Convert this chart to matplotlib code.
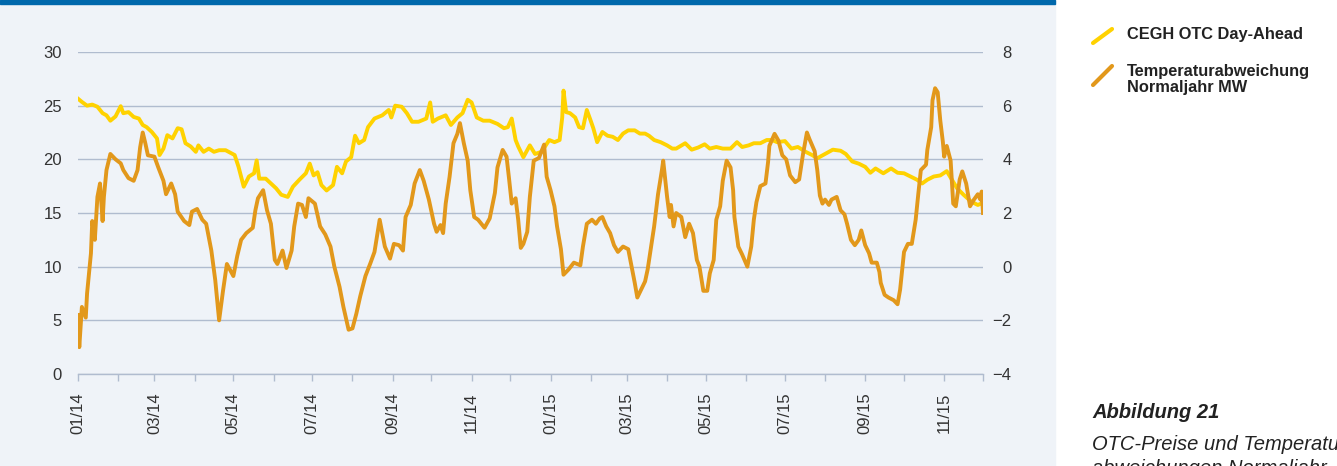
import matplotlib
matplotlib.use('Agg')
import matplotlib.pyplot as plt
import matplotlib.dates as mdates
from matplotlib.lines import Line2D
from matplotlib.patches import Rectangle
import pandas as pd

# CEGH OTC Day-Ahead (left axis), days since 2014-01-01
price_days = [0, 3, 7, 11, 15, 19, 22, 25, 29, 33, 35, 39, 43, 47, 50, 53, 57, 61, 63, 66,
              69, 73, 77, 80, 83, 87, 91, 93, 97, 101, 105, 109, 114, 121, 124, 128, 132, 136, 138, 140,
              145, 149, 153, 157, 162, 166, 171, 176, 179, 182, 185, 188, 192, 197, 200, 204, 207, 211, 214, 217,
              221, 224, 229, 235, 240, 242, 245, 250, 254, 258, 263, 269, 272, 274, 278, 284, 288, 293, 297, 301,
              304, 308, 313, 318, 324, 329, 332, 335, 338, 340, 344, 349, 353, 358, 364, 368, 372, 374, 375, 377,
              380, 384, 387, 390, 393, 396, 398, 401, 405, 409, 413, 417, 421, 425, 430, 434, 438, 441, 445, 450,
              455, 459, 462, 469, 474, 479, 484, 488, 493, 498, 504, 509, 513, 518, 522, 527, 532, 536, 540, 546,
              551, 556, 562, 567, 571, 577, 583, 589, 593, 598, 603, 608, 612, 616, 622, 628, 633, 638, 643, 648,
              652, 656, 661, 666, 671, 675, 679, 684, 690, 695, 699]
price_vals = [25.65, 25.35, 25.0, 25.1, 24.9, 24.3, 24.1, 23.6, 24.0, 24.95, 24.3, 24.4, 23.95, 23.8, 23.2, 23.0, 22.55, 21.95, 20.4, 21.0,
              22.25, 21.95, 22.9, 22.8, 21.5, 21.2, 20.7, 21.3, 20.7, 21.0, 20.7, 20.85, 20.85, 20.4, 19.3, 17.45, 18.4, 18.7, 19.9, 18.2,
              18.2, 17.75, 17.3, 16.7, 16.5, 17.45, 18.1, 18.7, 19.6, 18.5, 18.8, 17.6, 17.1, 17.6, 19.3, 18.7, 19.8, 20.2, 22.2, 21.5,
              21.8, 23.0, 23.8, 24.1, 24.6, 23.9, 25.0, 24.9, 24.3, 23.5, 23.5, 23.8, 25.3, 23.5, 23.8, 24.1, 23.2, 23.9, 24.3, 25.55,
              25.3, 23.9, 23.6, 23.6, 23.3, 22.9, 23.0, 23.8, 21.8, 21.2, 20.2, 21.3, 20.5, 20.7, 21.8, 21.6, 21.8, 23.9, 26.4, 24.4,
              24.3, 23.9, 23.0, 22.9, 24.6, 23.6, 22.9, 21.6, 22.55, 22.2, 22.1, 21.8, 22.4, 22.7, 22.7, 22.4, 22.4, 22.2, 21.8, 21.6,
              21.3, 21.0, 21.0, 21.5, 20.9, 21.1, 21.4, 21.0, 21.15, 21.0, 21.0, 21.6, 21.15, 21.3, 21.5, 21.5, 21.8, 21.8, 21.6, 21.7,
              21.0, 21.15, 20.7, 20.4, 20.1, 20.5, 20.9, 20.8, 20.5, 19.8, 19.6, 19.3, 18.75, 19.15, 18.7, 19.15, 18.75, 18.7, 18.4, 18.1,
              17.75, 18.1, 18.4, 18.5, 18.9, 18.1, 17.3, 16.7, 16.05, 15.75, 15.95]

# Temperaturabweichung Normaljahr MW (right axis), days since 2014-01-01
temp_days = [0, 1, 3, 6, 7, 10, 11, 13, 15, 17, 19, 20, 22, 25, 29, 33, 35, 39, 43, 46,
             48, 50, 52, 54, 59, 62, 66, 68, 72, 75, 77, 82, 86, 88, 92, 96, 99, 103, 106, 109,
             112, 115, 120, 123, 126, 130, 135, 137, 139, 143, 146, 149, 152, 154, 158, 161, 165, 167, 170, 173,
             176, 178, 183, 187, 191, 195, 198, 202, 205, 209, 212, 215, 218, 222, 226, 229, 233, 237, 241, 244,
             248, 251, 253, 257, 260, 264, 267, 271, 275, 277, 280, 282, 284, 287, 290, 293, 295, 298, 301, 303,
             306, 309, 314, 318, 322, 324, 328, 331, 333, 335, 338, 340, 342, 344, 347, 349, 352, 356, 360, 362,
             365, 368, 370, 373, 375, 379, 383, 388, 390, 393, 397, 400, 403, 405, 408, 411, 414, 417, 421, 425,
             427, 430, 432, 435, 438, 440, 443, 445, 448, 451, 452, 455, 457, 458, 460, 462, 466, 469, 472, 475,
             478, 480, 483, 486, 488, 491, 493, 496, 498, 501, 504, 506, 507, 510, 513, 517, 520, 522, 524, 527,
             531, 533, 534, 538, 541, 544, 547, 550, 554, 557, 560, 563, 565, 569, 571, 573, 575, 577, 580, 582,
             586, 589, 592, 594, 597, 600, 603, 605, 608, 611, 613, 617, 619, 620, 623, 626, 630, 633, 635, 638,
             641, 644, 647, 649, 651, 655, 656, 659, 660, 662, 664, 666, 668, 669, 671, 674, 676, 678, 681, 683,
             686, 689, 692, 695, 697, 698, 699]
temp_vals = [-1.8, -3.0, -1.5, -1.9, -1.0, 0.5, 1.7, 1.0, 2.6, 3.1, 1.7, 2.6, 3.6, 4.2, 4.0, 3.85, 3.6, 3.3, 3.2, 3.6,
             4.45, 5.0, 4.6, 4.15, 4.1, 3.7, 3.2, 2.7, 3.1, 2.7, 2.05, 1.7, 1.55, 2.05, 2.15, 1.75, 1.6, 0.6, -0.5, -2.0,
             -0.9, 0.1, -0.35, 0.4, 1.0, 1.25, 1.45, 2.1, 2.55, 2.85, 2.1, 1.6, 0.25, 0.1, 0.6, -0.05, 0.6, 1.5, 2.35, 2.3,
             1.85, 2.55, 2.35, 1.5, 1.2, 0.75, 0.0, -0.75, -1.5, -2.35, -2.3, -1.75, -1.1, -0.35, 0.15, 0.55, 1.75, 0.75, 0.3, 0.85,
             0.8, 0.6, 1.85, 2.3, 3.1, 3.6, 3.2, 2.5, 1.6, 1.3, 1.55, 1.25, 2.35, 3.35, 4.6, 4.95, 5.35, 4.6, 3.95, 2.85,
             1.85, 1.75, 1.45, 1.8, 2.75, 3.7, 4.35, 4.1, 3.25, 2.35, 2.55, 1.75, 0.7, 0.85, 1.3, 2.6, 3.95, 4.05, 4.55, 3.35,
             2.85, 2.25, 1.5, 0.65, -0.3, -0.1, 0.15, 0.05, 0.75, 1.6, 1.75, 1.6, 1.8, 1.85, 1.5, 1.25, 0.8, 0.55, 0.75, 0.65,
             0.15, -0.6, -1.15, -0.85, -0.55, -0.1, 0.85, 1.5, 2.7, 3.6, 3.95, 2.6, 1.85, 2.3, 1.5, 2.0, 1.85, 1.1, 1.6, 1.25,
             0.25, 0.0, -0.9, -0.9, -0.25, 0.25, 1.75, 2.25, 3.2, 3.95, 3.7, 2.85, 1.85, 0.75, 0.45, 0.0, 0.75, 1.75, 2.4, 3.0,
             3.1, 3.9, 4.5, 4.95, 4.7, 4.15, 4.0, 3.4, 3.15, 3.25, 4.2, 5.0, 4.75, 4.3, 3.6, 2.65, 2.35, 2.5, 2.3, 2.5,
             2.6, 2.1, 1.95, 1.6, 1.0, 0.8, 1.0, 1.35, 0.8, 0.5, 0.15, 0.15, -0.2, -0.6, -1.05, -1.15, -1.25, -1.4, -0.85, 0.55,
             0.85, 0.85, 1.75, 2.7, 3.6, 3.8, 4.35, 5.2, 6.2, 6.65, 6.5, 5.45, 4.65, 4.1, 4.5, 3.95, 2.35, 2.25, 3.25, 3.55,
             3.1, 2.25, 2.5, 2.7, 2.5, 2.8, 2.0]

start = pd.Timestamp('2014-01-01')
end = pd.Timestamp('2015-12-01')
price_dates = start + pd.to_timedelta(price_days, unit='D')
temp_dates = start + pd.to_timedelta(temp_days, unit='D')

W, H = 1337, 466
bg = '#EFF3F8'
blue = '#0068AC'
grid_c = '#B0BCCF'
yellow = '#FFD200'
orange = '#E2981B'
txt = '#333333'

plt.rcParams['font.family'] = ['Liberation Sans', 'DejaVu Sans']

fig = plt.figure(figsize=(W / 100, H / 100), dpi=100, facecolor='white')
fig.add_artist(Rectangle((0, 0), 1055 / W, 1, transform=fig.transFigure,
                         color=bg, zorder=-2))
fig.add_artist(Rectangle((0, 1 - 4 / H), 1055 / W, 4 / H, transform=fig.transFigure,
                         color=blue, zorder=-1))

ax = fig.add_axes([78 / W, 1 - 374 / H, (983 - 78) / W, (374 - 52) / H])
ax.patch.set_visible(False)
ax2 = ax.twinx()

ax.plot(price_dates, price_vals, color=yellow, lw=2.8, solid_joinstyle='round')
ax2.plot(temp_dates, temp_vals, color=orange, lw=2.8, solid_joinstyle='round')

ax.set_xlim(start, end)
ax.set_ylim(0, 30)
ax.set_yticks(range(0, 31, 5))
ax2.set_ylim(-4, 8)
ax2.set_yticks(range(-4, 9, 2))

ax.yaxis.grid(True, color=grid_c, lw=1.0)
ax.set_axisbelow(True)
for a in (ax, ax2):
    for s in ('top', 'left', 'right', 'bottom'):
        a.spines[s].set_visible(False)
ax.spines['bottom'].set_visible(True)
ax.spines['bottom'].set_color(grid_c)
ax.spines['bottom'].set_linewidth(1.0)

ax.xaxis.set_major_locator(mdates.MonthLocator(bymonth=[1, 3, 5, 7, 9, 11]))
ax.xaxis.set_minor_locator(mdates.MonthLocator(bymonth=[2, 4, 6, 8, 10, 12]))
ax.xaxis.set_major_formatter(mdates.DateFormatter('%m/%y'))
ax.tick_params(axis='x', which='both', length=4.8, width=1.0, color=grid_c,
               direction='out', pad=8.5, labelsize=12, labelcolor=txt,
               labelrotation=90)
ax.tick_params(axis='y', length=0, pad=11.5, labelsize=12, labelcolor=txt)
ax2.tick_params(axis='y', length=0, pad=20.5, labelsize=12, labelcolor=txt)
plt.setp(ax2.get_yticklabels(), ha='right')

# legend
fig.add_artist(Line2D([1093 / W, 1112 / W], [1 - 43 / H, 1 - 29 / H], color=yellow,
                      lw=3, solid_capstyle='round', transform=fig.transFigure))
fig.add_artist(Line2D([1093 / W, 1112 / W], [1 - 85 / H, 1 - 66 / H], color=orange,
                      lw=3, solid_capstyle='round', transform=fig.transFigure))
fig.text(1127 / W, 1 - 34 / H, 'CEGH OTC Day-Ahead', fontsize=11.8,
         fontweight='bold', color='#222222', va='center')
fig.text(1127 / W, 1 - 79.5 / H, 'Temperaturabweichung\nNormaljahr MW', fontsize=11.8,
         fontweight='bold', color='#222222', va='center', linespacing=1.1)

# caption
fig.text(1092 / W, 1 - 418 / H, 'Abbildung 21', fontsize=14.5, fontweight='bold',
         style='italic', color='#222222', va='baseline')
fig.text(1092 / W, 1 - 450 / H, 'OTC-Preise und Temperatur-', fontsize=14.5,
         style='italic', color='#222222', va='baseline')
fig.text(1092 / W, 1 - 474 / H, 'abweichungen Normaljahr', fontsize=14.5,
         style='italic', color='#222222', va='baseline')

fig.savefig('out.png', dpi=100, facecolor='white')
